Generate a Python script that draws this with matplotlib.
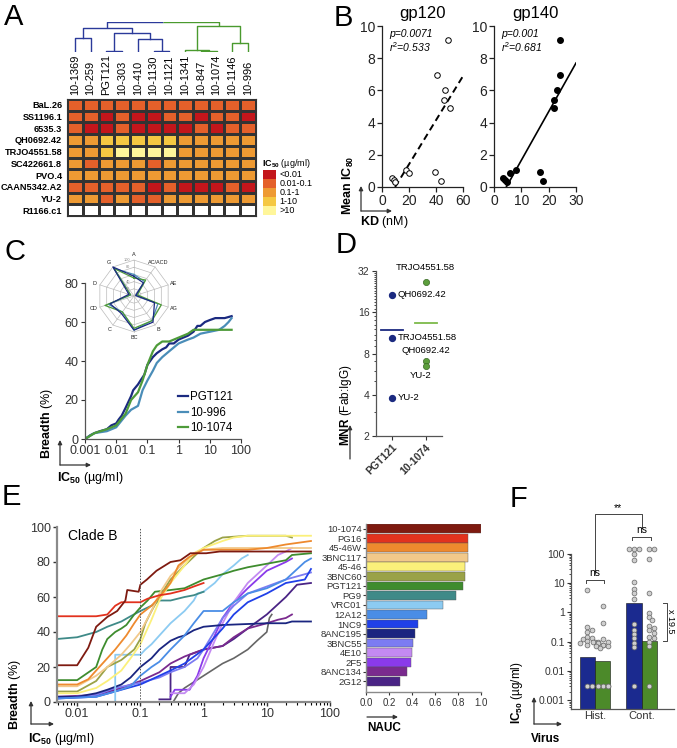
import numpy as np
import matplotlib
matplotlib.use('Agg')
import matplotlib.pyplot as plt
from matplotlib.colors import ListedColormap
import matplotlib.ticker as mticker

plt.rcParams['font.family'] = ['Liberation Sans', 'DejaVu Sans']
plt.rcParams['mathtext.fontset'] = 'custom'
plt.rcParams['mathtext.rm'] = 'Liberation Sans'
plt.rcParams['mathtext.bf'] = 'Liberation Sans:bold'
plt.rcParams['mathtext.it'] = 'Liberation Sans:italic'

# ======================= DATA =======================
# --- A: heatmap (IC50 category: 0 <0.01, 1 0.01-0.1, 2 0.1-1, 3 1-10, 4 >10, 5 not neutralized)
heat_rows = ['BaL.26', 'SS1196.1', '6535.3', 'QH0692.42', 'TRJO4551.58', 'SC422661.8',
             'PVO.4', 'CAAN5342.A2', 'YU-2', 'R1166.c1']
heat_cols = ['10-1369', '10-259', 'PGT121', '10-303', '10-410', '10-1130', '10-1121',
             '10-1341', '10-847', '10-1074', '10-1146', '10-996']
heat_cat = [
    [1, 1, 1, 1, 1, 1, 1, 1, 1, 1, 1, 1],
    [1, 1, 0, 1, 0, 0, 1, 1, 0, 1, 1, 0],
    [1, 0, 0, 1, 0, 0, 0, 0, 1, 0, 1, 1],
    [2, 2, 3, 3, 3, 3, 3, 2, 2, 2, 2, 2],
    [2, 2, 3, 4, 4, 4, 4, 2, 2, 2, 2, 2],
    [2, 1, 2, 2, 2, 1, 2, 2, 2, 2, 2, 2],
    [2, 2, 2, 2, 2, 2, 2, 2, 2, 2, 2, 2],
    [1, 1, 1, 1, 1, 0, 1, 0, 0, 0, 1, 0],
    [2, 2, 1, 2, 1, 1, 2, 2, 2, 2, 2, 2],
    [5, 5, 5, 5, 5, 5, 5, 5, 5, 5, 5, 5],
]
heat_legend = ['<0.01', '0.01-0.1', '0.1-1', '1-10', '>10']
# dendrogram merges: (left node, right node, height); new nodes numbered from 12
dendro_merges = [(0, 1, 40), (2, 3, 3), (5, 6, 3), (4, 14, 37), (13, 15, 55), (12, 16, 70),
                 (8, 9, 2), (7, 18, 5), (10, 11, 25), (19, 20, 75), (17, 21, 87)]
dendro_group = ['b', 'b', 'b', 'b', 'b', 'b', 'g', 'g', 'g', 'g', 'root']

# --- B: KD vs mean IC80
ic80_mean = [0.55, 0.45, 0.3, 1.05, 0.85, 0.95, 0.35, 6.95, 6.05, 5.4, 4.9, 9.15]
gp120_kd = [7.7, 8.9, 9.5, 18, 20, 39, 44, 41, 47, 45.7, 50, 49]
gp140_kd = [3.3, 4.2, 4.6, 7.9, 6.0, 17, 18, 24, 23, 22, 22, 24]
gp120_fit = (0.137, -1.33)
gp140_fit = (0.302, -1.36)
gp120_stats = ('p=0.0071', 'r$^2$=0.533')
gp140_stats = ('p=0.001', 'r$^2$=0.681')

# --- C: breadth curves
c_names = ['PGT121', '10-996', '10-1074']
c_pgt121_x = [0.001, 0.0015, 0.002, 0.003, 0.005, 0.007, 0.01, 0.012, 0.015, 0.02, 0.03, 0.035, 0.05,
              0.06, 0.08, 0.1, 0.15, 0.2, 0.3, 0.4, 0.5, 0.7, 1, 2, 3, 4, 5, 7, 10, 15, 30, 50]
c_pgt121_y = [0, 2, 3, 4, 5, 7, 8, 10, 12, 16, 22, 25, 28, 30, 33, 38, 42, 44, 46, 47, 49, 49, 51,
              53, 55, 58, 58, 60, 61, 62, 62, 63]
c_996_x = [0.001, 0.002, 0.005, 0.01, 0.02, 0.03, 0.05, 0.07, 0.1, 0.15, 0.2, 0.3, 0.5, 1, 2, 3, 5,
           10, 20, 30, 40, 50]
c_996_y = [0, 3, 4, 6, 12, 15, 17, 25, 30, 35, 39, 42, 45, 49, 51, 52, 54, 55, 56, 58, 60, 62]
c_1074_x = [0.001, 0.002, 0.005, 0.01, 0.02, 0.03, 0.05, 0.07, 0.1, 0.15, 0.2, 0.3, 0.5, 1, 2, 3, 5,
            10, 50]
c_1074_y = [0, 3, 5, 7, 13, 20, 24, 30, 38, 45, 48, 50, 50, 52, 54, 56, 56, 56, 56]
radar_cats = ['A', 'AC/ACD', 'AE', 'AG', 'B', 'BC', 'C', 'CD', 'D', 'G']
radar_pgt121 = [55, 45, 5, 60, 90, 95, 60, 70, 15, 100]
radar_996 = [60, 50, 5, 70, 85, 95, 55, 75, 10, 95]
radar_1074 = [50, 55, 10, 80, 85, 90, 55, 85, 10, 95]

# --- D: MNR
d_groups = ['PGT121', '10-1074']
d_pgt121_names = ['QH0692.42', 'TRJO4551.58', 'YU-2']
d_pgt121_vals = [21.4, 10.4, 3.8]
d_1074_names = ['TRJO4551.58', 'QH0692.42', 'YU-2']
d_1074_vals = [26.6, 7.1, 6.5]
d_center = [11.9, 13.4]

# --- E: clade B breadth curves and NAUC
e_names = ['10-1074', 'PG16', '45-46W', '3BNC117', '45-46', '3BNC60', 'PGT121', 'PG9', 'VRC01',
           '12A12', '1NC9', '8ANC195', '3BNC55', '4E10', '2F5', '8ANC134', '2G12']
e_nauc = [1.0, 0.89, 0.89, 0.887, 0.858, 0.858, 0.843, 0.782, 0.666, 0.529, 0.448, 0.424, 0.413,
          0.404, 0.39, 0.36, 0.30]
e_curve_x = [
    [0.0048, 0.01, 0.015, 0.02, 0.03, 0.043, 0.058, 0.062, 0.094, 0.1, 0.127, 0.18, 0.3, 0.43, 0.62, 1.1, 1.8, 50],
    [0.0048, 0.02, 0.03, 0.04, 0.05, 0.1, 0.13, 0.2, 0.3, 0.5, 0.7, 1.0],
    [0.0048, 0.01, 0.015, 0.02, 0.03, 0.04, 0.06, 0.08, 0.1, 0.15, 0.2, 0.3, 0.4, 0.6, 1, 2, 5, 10, 20, 50],
    [0.0048, 0.01, 0.02, 0.03, 0.05, 0.07, 0.1, 0.15, 0.2, 0.3, 0.5, 0.7, 1, 2, 5, 50],
    [0.0048, 0.01, 0.02, 0.03, 0.05, 0.07, 0.1, 0.15, 0.2, 0.3, 0.5, 0.7, 1, 2, 3, 5, 50],
    [0.0048, 0.01, 0.02, 0.03, 0.05, 0.08, 0.1, 0.12, 0.15, 0.2, 0.3, 0.5, 0.8, 1, 1.5, 2, 5, 20, 25],
    [0.0048, 0.01, 0.02, 0.025, 0.03, 0.04, 0.05, 0.06, 0.08, 0.1, 0.13, 0.17, 0.3, 0.5, 1, 2, 3, 5, 10, 20, 25, 50],
    [0.0048, 0.01, 0.02, 0.03, 0.05, 0.07, 0.1, 0.15, 0.2, 0.3, 0.5, 0.7, 1],
    [0.035, 0.04, 0.04, 0.1, 0.12, 0.15, 0.2, 0.3, 0.5, 0.7, 0.8, 1, 1.5, 2, 3, 4, 5],
    [0.0048, 0.02, 0.04, 0.07, 0.1, 0.15, 0.2, 0.3, 0.5, 0.7, 1, 2, 3, 5, 10, 20, 40, 50],
    [0.0048, 0.02, 0.05, 0.1, 0.2, 0.3, 0.5, 1, 2, 3, 5, 10, 20, 40, 50],
    [0.0048, 0.01, 0.02, 0.03, 0.05, 0.07, 0.1, 0.15, 0.2, 0.3, 0.4, 0.5, 0.7, 1, 2, 10, 20, 25, 50],
    [0.0048, 0.02, 0.04, 0.1, 0.2, 0.3, 0.5, 0.8, 1, 2, 3, 5, 10, 20, 50],
    [0.3, 0.5, 0.7, 1, 1.5, 2, 3, 5, 10, 15, 20, 25],
    [0.3, 0.35, 0.6, 0.8, 1, 1.5, 2, 3, 5, 10, 20, 25],
    [0.0048, 0.02, 0.05, 0.1, 0.2, 0.3, 0.5, 0.7, 1, 2, 3, 5, 10, 15, 20, 25],
    [0.2, 0.3, 0.3, 0.5, 0.6, 1, 2, 3, 5, 10, 20, 30, 50],
]
e_curve_y = [
    [21, 21, 31, 43, 48.6, 52, 58, 64, 63, 67, 70, 75, 80, 81, 85, 85, 86, 86],
    [49, 49, 50, 55, 57, 57, 59, 61, 62, 64, 66, 68],
    [10, 10, 13, 18, 25, 30, 38, 45, 50, 55, 60, 68, 78, 83, 87, 87, 87, 88, 90, 92],
    [9, 9, 15, 20, 27, 33, 40, 52, 62, 72, 80, 85, 87, 88, 88, 88],
    [5, 5, 8, 12, 18, 25, 33, 47, 58, 68, 78, 85, 88, 92, 94, 95, 95],
    [6, 6, 12, 20, 24, 30, 36, 45, 52, 60, 70, 78, 85, 88, 92, 94, 95, 95, 94],
    [12.5, 12.5, 20, 30, 36, 40, 42, 44, 50, 54, 58, 63, 64, 65, 70, 73, 75, 77, 79, 81, 84, 85],
    [36, 37, 40, 43, 46, 49, 52, 55, 58, 58, 60, 61, 63],
    [0, 0, 27, 27, 30, 33, 38, 45, 52, 58, 62, 63, 68, 73, 78, 82, 84],
    [2, 3, 6, 9, 15, 20, 23, 30, 38, 45, 52, 52, 57, 62, 65, 70, 80, 82],
    [2, 3, 7, 10, 15, 18, 22, 30, 42, 50, 57, 62, 68, 70, 76],
    [3, 3, 5, 7, 10, 14, 20, 25, 30, 35, 37, 38, 41, 43, 44, 45, 45, 46, 46],
    [2, 4, 8, 11, 14, 17, 20, 25, 30, 48, 55, 62, 66, 70, 74],
    [5, 5, 10, 20, 35, 45, 57, 68, 78, 84, 86, 88],
    [3, 7, 7, 15, 25, 38, 48, 57, 65, 75, 80, 82],
    [3, 4, 8, 12, 17, 22, 26, 28, 30, 32, 37, 42, 45, 47, 48, 50],
    [1.5, 1.5, 20, 20, 27, 30, 32, 36, 42, 50, 60, 67, 68],
]
e_extra_x = [0.33, 0.4, 0.5, 1, 2, 3, 5, 7, 10, 11, 12]
e_extra_y = [0, 5, 8, 15, 22, 25, 30, 35, 40, 48, 50]

# --- F: IC50 by virus type
f_groups = ['Hist.', 'Cont.']
f_hist_pgt121 = [5.7, 0.32, 0.26, 0.22, 0.15, 0.13, 0.12, 0.11, 0.1, 0.1, 0.09, 0.08, 0.003, 0.003]
f_hist_1074 = [1.6, 0.42, 0.12, 0.1, 0.1, 0.09, 0.08, 0.08, 0.07, 0.07, 0.06,
               0.003, 0.003, 0.003, 0.003, 0.003]
f_cont_pgt121 = [150, 150, 140, 100, 60, 11, 6.5, 4.7, 2.8, 0.4, 0.26, 0.19, 0.13, 0.09, 0.065, 0.003]
f_cont_1074 = [150, 150, 65, 4.5, 0.95, 0.7, 0.55, 0.35, 0.3, 0.25, 0.2, 0.15, 0.13, 0.1, 0.07, 0.003]
f_bar_pgt121 = [0.031, 2.15]
f_bar_1074 = [0.021, 0.11]
f_fold = 'x 19.5'

# ======================= STYLE / LAYOUT =======================
W, H = 677, 748
fig = plt.figure(figsize=(W / 100, H / 100), dpi=100)

def pax(x0, y0, x1, y1, **kw):
    return fig.add_axes([x0 / W, 1 - y1 / H, (x1 - x0) / W, (y1 - y0) / H], **kw)

def F(x, y):
    return (x / W, 1 - y / H)

def ftext(x, y, s, **kw):
    fig.text(x / W, 1 - y / H, s, **kw)

def farrow(x0, y0, x1, y1, color='#333333'):
    fig.add_artist(matplotlib.patches.FancyArrowPatch(
        F(x0, y0), F(x1, y1), transform=fig.transFigure, arrowstyle='-|>',
        mutation_scale=6, lw=0.9, color=color, shrinkA=0, shrinkB=0))

for lab, x, y in [('A', 4, 3), ('B', 334, 4), ('C', 5, 238), ('D', 336, 231), ('E', 2, 483), ('F', 510, 485)]:
    ftext(x, y, lab, fontsize=21, va='top', ha='left')

BLUE_D = '#2B3A9A'
GREEN_D = '#4A9A2E'

# ---------------- A ----------------
heat_colors = ['#C3161B', '#E4602A', '#EE9A33', '#F5C842', '#FFF69A', '#FFFFFF']
axA = pax(67, 99, 256, 216)
cat = np.array(heat_cat)
axA.pcolormesh(np.arange(cat.shape[1] + 1) - 0.5, np.arange(cat.shape[0] + 1) - 0.5, cat,
               cmap=ListedColormap(heat_colors), vmin=-0.5, vmax=5.5,
               edgecolors='#333333', linewidth=0.8)
axA.set_xlim(-0.5, cat.shape[1] - 0.5)
axA.set_ylim(cat.shape[0] - 0.5, -0.5)
axA.set_xticks([])
axA.set_yticks(range(len(heat_rows)))
axA.set_yticklabels(heat_rows, fontsize=6.6, fontweight='bold')
axA.tick_params(axis='y', length=0, pad=3.5)
for s in axA.spines.values():
    s.set_color('#333333'); s.set_linewidth(0.8)
for j, name in enumerate(heat_cols):
    axA.text(j, -0.85, name, rotation=90, ha='center', va='bottom', fontsize=7.9)

# dendrogram
axD0 = pax(67, 22, 256, 52)
axD0.set_xlim(-0.5, len(heat_cols) - 0.5)
axD0.set_ylim(0, max(m[2] for m in dendro_merges))
axD0.axis('off')
node_x = {i: float(i) for i in range(len(heat_cols))}
node_h = {i: 0.0 for i in range(len(heat_cols))}
for k, (l, r, h) in enumerate(dendro_merges):
    nid = len(heat_cols) + k
    xl, xr = node_x[l], node_x[r]
    g = dendro_group[k]
    if g == 'root':
        xm = (xl + xr) / 2
        axD0.plot([xl, xl, xm], [node_h[l], h, h], color=BLUE_D, lw=1.0, solid_capstyle='butt')
        axD0.plot([xm, xr, xr], [h, h, node_h[r]], color=GREEN_D, lw=1.0, solid_capstyle='butt')
    else:
        c = BLUE_D if g == 'b' else GREEN_D
        axD0.plot([xl, xl, xr, xr], [node_h[l], h, h, node_h[r]], color=c, lw=1.0)
    node_x[nid] = (xl + xr) / 2
    node_h[nid] = h

# legend
axL = pax(263, 170, 276, 215)
axL.pcolormesh(np.array([0, 1]), np.arange(len(heat_legend) + 1), np.arange(len(heat_legend)).reshape(-1, 1),
               cmap=ListedColormap(heat_colors[:5]), vmin=-0.5, vmax=4.5, edgecolors='none')
axL.set_ylim(len(heat_legend), 0)
axL.set_xticks([]); axL.set_yticks([])
for s in axL.spines.values():
    s.set_visible(False)
for i, t in enumerate(heat_legend):
    axL.text(1.25, i + 0.5, t, transform=axL.transData, fontsize=6.5, va='center', ha='left')
ftext(262, 163, r'$\mathbf{IC_{50}}$ (µg/ml)', fontsize=6.5, va='center', ha='left')

# ---------------- B ----------------
def style_b(ax):
    for s in ['top', 'right']:
        ax.spines[s].set_visible(False)
    for s in ['left', 'bottom']:
        ax.spines[s].set_linewidth(0.9); ax.spines[s].set_color('#222222')
    ax.tick_params(labelsize=10, length=3.5, width=0.9, pad=1.5, colors='#222222')

axB1 = pax(382, 26, 463, 187)
axB1.scatter(gp120_kd, ic80_mean, s=16, facecolors='white', edgecolors='black', linewidths=0.7, zorder=3, clip_on=False)
x0 = -gp120_fit[1] / gp120_fit[0]
xs = np.array([x0, 60])
axB1.plot(xs, gp120_fit[0] * xs + gp120_fit[1], color='black', lw=1.4, ls=(0, (3.5, 2.2)))
axB1.set_xlim(0, 60); axB1.set_ylim(0, 10)
axB1.set_xticks([0, 20, 40, 60]); axB1.set_yticks([0, 2, 4, 6, 8, 10])
style_b(axB1)
axB1.set_title('gp120', fontsize=12, pad=6)
axB1.text(0.09, 0.95, gp120_stats[0], transform=axB1.transAxes, fontsize=7.5, style='italic', va='center')
axB1.text(0.09, 0.87, gp120_stats[1], transform=axB1.transAxes, fontsize=7.5, style='italic', va='center')

axB2 = pax(494, 26, 576, 187)
axB2.scatter(gp140_kd, ic80_mean, s=16, color='black', zorder=3, clip_on=False)
x0 = -gp140_fit[1] / gp140_fit[0]
xs = np.array([x0, 30])
axB2.plot(xs, gp140_fit[0] * xs + gp140_fit[1], color='black', lw=1.2)
axB2.set_xlim(0, 30); axB2.set_ylim(0, 10)
axB2.set_xticks([0, 10, 20, 30]); axB2.set_yticks([0, 2, 4, 6, 8, 10])
style_b(axB2)
axB2.set_title('gp140', fontsize=12, pad=6)
axB2.text(0.09, 0.95, gp140_stats[0], transform=axB2.transAxes, fontsize=7.5, style='italic', va='center')
axB2.text(0.09, 0.87, gp140_stats[1], transform=axB2.transAxes, fontsize=7.5, style='italic', va='center')

farrow(361, 211, 361, 186); farrow(361, 211, 392, 211)
ftext(348, 185, r'$\mathbf{Mean\ IC_{80}}$', rotation=90, fontsize=9, ha='center', va='center')
ftext(360, 222, r'$\mathbf{KD}$ (nM)', fontsize=9, ha='left', va='center')

# ---------------- C ----------------
C_COLORS = ['#1B2A80', '#4A8DB8', '#4E9B3A']
axC = pax(85, 283, 241, 439)
for xv, yv, c, n in [(c_pgt121_x, c_pgt121_y, C_COLORS[0], c_names[0]),
                     (c_996_x, c_996_y, C_COLORS[1], c_names[1]),
                     (c_1074_x, c_1074_y, C_COLORS[2], c_names[2])]:
    axC.plot(xv, yv, color=c, lw=1.6, label=n)
axC.set_xscale('log')
axC.set_xlim(0.001, 100); axC.set_ylim(0, 80)
axC.set_yticks([0, 20, 40, 60, 80])
axC.set_xticks([0.001, 0.01, 0.1, 1, 10, 100])
axC.set_xticklabels(['0.001', '0.01', '0.1', '1', '10', '100'])
axC.xaxis.set_minor_locator(mticker.LogLocator(base=10, subs=np.arange(2, 10)))
axC.xaxis.set_minor_formatter(mticker.NullFormatter())
for s in ['top', 'right']:
    axC.spines[s].set_visible(False)
for s in ['left', 'bottom']:
    axC.spines[s].set_color('#555555'); axC.spines[s].set_linewidth(0.9)
axC.tick_params(labelsize=9, length=3, width=0.8, pad=1.5, colors='#333333')
axC.tick_params(which='minor', length=1.8, width=0.6)
axC.legend(loc='lower right', bbox_to_anchor=(0.98, 0.0), frameon=False, fontsize=8.3,
           handlelength=0.8, handletextpad=0.25, labelspacing=0.3, borderaxespad=0)
farrow(60, 465, 60, 440); farrow(60, 465, 91, 465)
ftext(47, 423, r'$\mathbf{Breadth}$ (%)', rotation=90, fontsize=9, ha='center', va='center')
ftext(57, 478, r'$\mathbf{IC_{50}}$ (µg/ml)', fontsize=9, ha='left', va='center')

# radar inset
axR = pax(92, 254, 176, 338)
axR.set_aspect('equal')
axR.set_xlim(-1.17, 1.17); axR.set_ylim(-1.17, 1.17)
axR.axis('off')
nc = len(radar_cats)
ang = np.deg2rad(90 - 360 / nc * np.arange(nc))
for r in [0.2, 0.4, 0.6, 0.8, 1.0]:
    axR.plot(np.r_[r * np.cos(ang), r * np.cos(ang[0])], np.r_[r * np.sin(ang), r * np.sin(ang[0])],
             color='#BBBBBB', lw=0.5)
for a in ang:
    axR.plot([0, np.cos(a)], [0, np.sin(a)], color='#BBBBBB', lw=0.5)
for vals, c in [(radar_996, C_COLORS[1]), (radar_1074, C_COLORS[2]), (radar_pgt121, C_COLORS[0])]:
    v = np.array(vals) / 100
    axR.plot(np.r_[v * np.cos(ang), v[0] * np.cos(ang[0])], np.r_[v * np.sin(ang), v[0] * np.sin(ang[0])],
             color=c, lw=0.9)
for a, t in zip(ang, radar_cats):
    axR.text(1.17 * np.cos(a), 1.15 * np.sin(a), t, fontsize=4, ha='center', va='center', color='#222222')
for r, t in [(1.0, '100'), (0.8, '80'), (0.6, '60'), (0.4, '40'), (0.2, '20')]:
    axR.text(-0.1, r, t, fontsize=2.8, ha='right', va='center', color='#888888')

# ---------------- D ----------------
D_BLUE = '#1B2A80'
D_GREEN = '#5C9E3C'
axDd = pax(376, 271, 442, 436)
axDd.set_yscale('log', base=2)
axDd.set_ylim(2, 32)
axDd.set_xlim(-0.475, 1.48)
axDd.scatter([0] * len(d_pgt121_vals), d_pgt121_vals, s=18, color=D_BLUE, zorder=3)
axDd.scatter([1] * len(d_1074_vals), d_1074_vals, s=20, color=D_GREEN, edgecolors='#3A6A25', linewidths=0.5, zorder=3)
axDd.plot([-0.33, 0.33], [d_center[0]] * 2, color=D_BLUE, lw=1.3)
axDd.plot([0.67, 1.33], [d_center[1]] * 2, color='#7DBA4A', lw=1.3)
axDd.set_yticks([2, 4, 8, 16, 32])
axDd.yaxis.set_major_formatter(mticker.FuncFormatter(lambda v, p: '%d' % v))
axDd.yaxis.set_minor_locator(mticker.FixedLocator(list(range(3, 32))))
axDd.yaxis.set_minor_formatter(mticker.NullFormatter())
axDd.set_xticks([0, 1])
axDd.set_xticklabels(d_groups, rotation=45, ha='right', rotation_mode='anchor', fontsize=8, fontweight='bold')
for s in ['top', 'right']:
    axDd.spines[s].set_visible(False)
for s in ['left', 'bottom']:
    axDd.spines[s].set_color('#555555'); axDd.spines[s].set_linewidth(0.9)
axDd.tick_params(labelsize=7.5, length=3, width=0.8, pad=1.5, colors='#333333')
axDd.tick_params(which='minor', length=1.5, width=0.5)
for n, v in zip(d_pgt121_names, d_pgt121_vals):
    axDd.annotate(n, (0, v), xytext=(4, 0), textcoords='offset points', fontsize=6.8, va='center', ha='left')
green_offsets = [(0, 7.5, 'bottom'), (0, 4, 'bottom'), (-4, -4, 'top')]
for n, v, (dx, dy, va) in zip(d_1074_names, d_1074_vals, green_offsets):
    axDd.annotate(n, (1, v), xytext=(dx, dy), textcoords='offset points', fontsize=6.8, va=va, ha='center')
farrow(350, 459, 350, 425)
ftext(346, 405, r'$\mathbf{MNR}$ (Fab:IgG)', rotation=90, fontsize=8.5, ha='center', va='center')

# ---------------- E ----------------
E_COLORS = ['#7E1A10', '#E2321E', '#EE8A2E', '#F2C98A', '#FBF07A', '#9AA247', '#3E8C2E', '#3F8A88',
            '#8CCBF2', '#4A8DE6', '#2040E8', '#1A2580', '#7C7CF2', '#C48AF2', '#8A3AEA', '#7A2A8E',
            '#4A2485']
axE = pax(57, 527, 330, 702)
axE.plot(e_extra_x, e_extra_y, color='#666666', lw=1.2)
for xv, yv, c in reversed(list(zip(e_curve_x, e_curve_y, E_COLORS))):
    axE.plot(xv, yv, color=c, lw=1.3)
axE.axvline(0.1, color='#555555', lw=0.7, ls=(0, (1.5, 1.5)))
axE.set_xscale('log')
axE.set_xlim(0.0048, 100); axE.set_ylim(0, 100)
axE.set_xticks([0.01, 0.1, 1, 10, 100])
axE.set_xticklabels(['0.01', '0.1', '1', '10', '100'])
axE.xaxis.set_minor_locator(mticker.LogLocator(base=10, subs=np.arange(2, 10)))
axE.xaxis.set_minor_formatter(mticker.NullFormatter())
axE.set_yticks([0, 20, 40, 60, 80, 100])
for s in ['top', 'right']:
    axE.spines[s].set_visible(False)
for s in ['left', 'bottom']:
    axE.spines[s].set_color('#8A8A8A'); axE.spines[s].set_linewidth(1.6)
axE.tick_params(labelsize=9, length=3, width=1.0, pad=1.5, colors='#333333')
axE.tick_params(which='minor', length=2, width=0.8)
ftext(68, 536, 'Clade B', fontsize=10, ha='left', va='center')
farrow(31, 724, 31, 701); farrow(31, 724, 54, 724)
ftext(15, 694, r'$\mathbf{Breadth}$ (%)', rotation=90, fontsize=9, ha='center', va='center')
ftext(28, 739, r'$\mathbf{IC_{50}}$ (µg/ml)', fontsize=9, ha='left', va='center')

axN = pax(366, 524, 481, 692)
ypos = np.arange(len(e_names))
axN.barh(ypos, e_nauc, height=0.92, color=E_COLORS, edgecolor='#555555', linewidth=0.3)
axN.set_ylim(len(e_names) - 0.5 + 0.63, -0.5)
axN.set_xlim(0, 1.0)
axN.set_yticks(ypos)
axN.set_yticklabels(e_names, fontsize=6.8)
axN.set_xticks([0, 0.2, 0.4, 0.6, 0.8, 1.0])
axN.set_xticklabels(['0.0', '0.2', '0.4', '0.6', '0.8', '1.0'])
for s in ['top', 'right']:
    axN.spines[s].set_visible(False)
for s in ['left', 'bottom']:
    axN.spines[s].set_color('#8A8A8A'); axN.spines[s].set_linewidth(1.0)
axN.tick_params(axis='x', labelsize=7, length=2.5, pad=1.5, colors='#333333')
axN.tick_params(axis='y', labelsize=6.8, length=2, pad=1, colors='#333333')
farrow(367, 717, 398, 717)
ftext(367, 728, 'NAUC', fontsize=8.5, fontweight='bold', ha='left', va='center')

# ---------------- F ----------------
F_BLUE = '#1B2A8F'
F_GREEN = '#4C8A2A'
axF = pax(571, 500, 674, 709)
axF.set_yscale('log')
ylo, yhi = 10 ** -3.29, 10 ** 3.83
axF.set_ylim(ylo, yhi)
axF.set_xlim(-0.52, 1.70)
bw = 0.33
axF.bar(np.arange(2) - bw / 2, f_bar_pgt121, width=bw, bottom=ylo, color=F_BLUE, edgecolor='#111111', lw=0.4, zorder=1)
axF.bar(np.arange(2) + bw / 2, f_bar_1074, width=bw, bottom=ylo, color=F_GREEN, edgecolor='#111111', lw=0.4, zorder=1)

def swarm(vals, center, xscale=46.5, yscale=29.3, d=4.4, maxoff=7.5):
    ys = np.log10(vals) * yscale
    order = np.argsort(-ys)
    placed = []
    xs = np.zeros(len(vals))
    for i in order:
        best = None
        for k in range(0, 30):
            off = ((k + 1) // 2) * (d * 0.55) * (1 if k % 2 else -1)
            if abs(off) > maxoff:
                continue
            if all((off - px) ** 2 + (ys[i] - py) ** 2 >= (d * 0.85) ** 2 for px, py in placed):
                best = off
                break
        if best is None:
            best = ((len(placed) % 5) - 2) * d * 0.6
        placed.append((best, ys[i]))
        xs[i] = center + best / xscale
    return xs

for vals, cx in [(f_hist_pgt121, -bw / 2), (f_hist_1074, bw / 2), (f_cont_pgt121, 1 - bw / 2), (f_cont_1074, 1 + bw / 2)]:
    xs = swarm(vals, cx)
    axF.scatter(xs, vals, s=12, facecolor='#CFCFCF', edgecolor='#666666', linewidths=0.5, zorder=3, clip_on=False)
axF.spines['left'].set_bounds(ylo, 100)
for s in ['top', 'right']:
    axF.spines[s].set_visible(False)
for s in ['left', 'bottom']:
    axF.spines[s].set_color('#555555'); axF.spines[s].set_linewidth(0.9)
axF.set_yticks([0.001, 0.01, 0.1, 1, 10, 100])
axF.set_yticklabels(['0.001', '0.01', '0.1', '1', '10', '100'])
axF.yaxis.set_minor_locator(mticker.FixedLocator(
    [m * 10.0 ** e for e in range(-4, 2) for m in range(2, 10) if ylo < m * 10.0 ** e < 100]))
axF.yaxis.set_minor_formatter(mticker.NullFormatter())
axF.set_xticks([0, 1]); axF.set_xticklabels(f_groups)
axF.tick_params(labelsize=7.5, length=3, width=0.8, pad=1.5, colors='#333333')
axF.tick_params(axis='x', labelsize=8, length=0)
axF.tick_params(which='minor', length=1.5, width=0.5)
# ns brackets
for g, yb in [(0, 12.6), (1, 370)]:
    axF.plot([g - 0.2, g - 0.2, g + 0.2, g + 0.2], [yb * 0.8, yb, yb, yb * 0.8], color='#444444', lw=0.7)
    axF.text(g, yb * 1.15, 'ns', fontsize=7.5, ha='center', va='bottom')
axF.plot([0, 0, 1, 1], [22, 2265, 2265, 740], color='#444444', lw=0.7, clip_on=False)
axF.text(0.5, 2265 * 1.05, '**', fontsize=7.5, ha='center', va='bottom')
axF.plot([1.455, 1.54, 1.54, 1.455], [f_bar_pgt121[1], f_bar_pgt121[1], f_bar_1074[1], f_bar_1074[1]],
         color='#444444', lw=0.7, clip_on=False)
axF.text(1.625, np.sqrt(f_bar_pgt121[1] * f_bar_1074[1]), f_fold, rotation=-90, fontsize=6.5,
         ha='center', va='center', clip_on=False)
farrow(534, 724, 534, 697); farrow(534, 724, 562, 724)
ftext(517, 693, r'$\mathbf{IC_{50}}$ (µg/ml)', rotation=90, fontsize=8.5, ha='center', va='center')
ftext(531, 739, 'Virus', fontsize=8.5, fontweight='bold', ha='left', va='center')

fig.savefig('out.png', dpi=100)
